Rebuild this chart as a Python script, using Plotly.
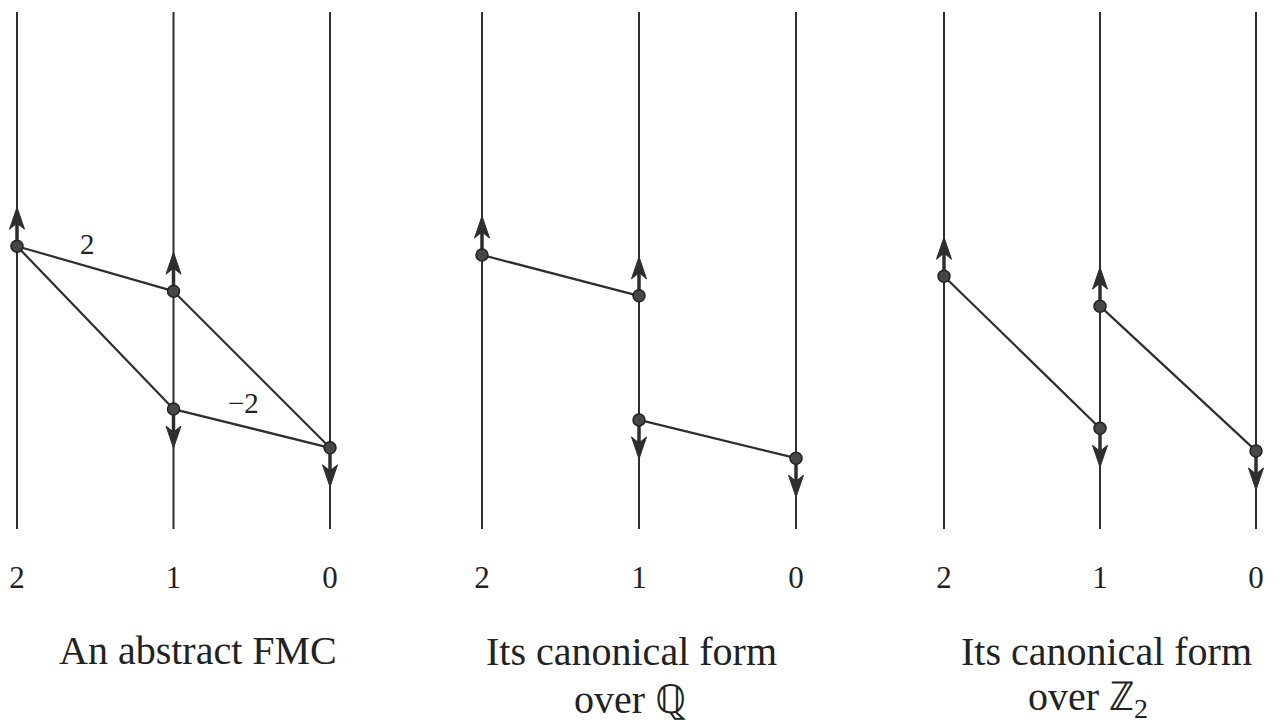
import plotly.graph_objects as go

W, H = 1282, 724

# ---------------- data ----------------
DEGREES = [2, 1, 0]
DEGREE_LABELS = ["2", "1", "0"]
LINE_LEVELS = [0, 10]  # extent of each degree column

# panel 1: an abstract FMC
P1_DEG = [2, 1, 1, 0]
P1_LEVEL = [5.47, 4.60, 2.32, 1.57]
P1_DIR = ["up", "up", "down", "down"]
P1_EDGES = [(0, 1), (0, 2), (1, 3), (2, 3)]
P1_EDGE_LABELS = ["2", "", "", "−2"]
P1_CAPTION = ["An abstract FMC"]

# panel 2: canonical form over Q
P2_DEG = [2, 1, 1, 0]
P2_LEVEL = [5.30, 4.51, 2.11, 1.37]
P2_DIR = ["up", "up", "down", "down"]
P2_EDGES = [(0, 1), (2, 3)]
P2_EDGE_LABELS = ["", ""]
P2_CAPTION = ["Its canonical form", "over ℚ"]

# panel 3: canonical form over Z2
P3_DEG = [2, 1, 1, 0]
P3_LEVEL = [4.89, 4.31, 1.95, 1.51]
P3_DIR = ["up", "up", "down", "down"]
P3_EDGES = [(0, 2), (1, 3)]
P3_EDGE_LABELS = ["", ""]
P3_CAPTION = ["Its canonical form", "over ℤ<sub>2</sub>"]

PANELS = [
    (P1_DEG, P1_LEVEL, P1_DIR, P1_EDGES, P1_EDGE_LABELS, P1_CAPTION),
    (P2_DEG, P2_LEVEL, P2_DIR, P2_EDGES, P2_EDGE_LABELS, P2_CAPTION),
    (P3_DEG, P3_LEVEL, P3_DIR, P3_EDGES, P3_EDGE_LABELS, P3_CAPTION),
]

# ---------------- layout geometry (pixels) ----------------
COL_PX = [(17, 330), (482, 796), (944, 1256)]      # px of degree 2 and degree 0
DOMAIN_PX = [(0, 410), (436, 866), (892, 1282)]
CAPTION_PX = [[(198, 650)], [(631, 651), (630, 699)], [(1106, 651), (1088, 699)]]
PLOT_BOTTOM_PX = 556
LEVEL0_PX, LEVEL10_PX = 529, 12
SY = (LEVEL0_PX - LEVEL10_PX) / 10.0

INK = "#2e2e2e"
FONT = "Liberation Serif, Times New Roman, serif"

ARROW_LEN = 39     # px from point to tip
HEAD_LEN = 22
HEAD_HALF = 7.5
NOTCH = 16

fig = go.Figure()
layout_axes = {}

for k, (deg, lev, dirs, edges, elabels, caption) in enumerate(PANELS):
    xa = "x" if k == 0 else f"x{k+1}"
    axname = "xaxis" if k == 0 else f"xaxis{k+1}"
    p2, p0 = COL_PX[k]
    d0, d1 = DOMAIN_PX[k]
    sx = (p0 - p2) / 2.0
    rng = [2 + (p2 - d0) / sx, 2 - (d1 - p2) / sx]
    layout_axes[axname] = dict(
        domain=[d0 / W, d1 / W], range=rng, anchor="y",
        showgrid=False, zeroline=False, showline=False, ticks="",
        tickmode="array", tickvals=DEGREES, ticktext=DEGREE_LABELS,
        tickfont=dict(family=FONT, size=31, color="#222"),
        fixedrange=True,
    )

    # vertical degree lines
    vx, vy = [], []
    for d in DEGREES:
        vx += [d, d, None]
        vy += [LINE_LEVELS[0], LINE_LEVELS[1], None]
    fig.add_trace(go.Scatter(x=vx, y=vy, xaxis=xa, yaxis="y", mode="lines",
                             line=dict(color=INK, width=2), hoverinfo="skip", showlegend=False))

    # boundary edges
    ex, ey = [], []
    for (a, b) in edges:
        ex += [deg[a], deg[b], None]
        ey += [lev[a], lev[b], None]
    fig.add_trace(go.Scatter(x=ex, y=ey, xaxis=xa, yaxis="y", mode="lines",
                             line=dict(color=INK, width=2.2), hoverinfo="skip", showlegend=False))

    # arrow shafts and heads
    shx, shy, hx, hy = [], [], [], []
    for d, l, dr in zip(deg, lev, dirs):
        s = 1 if dr == "up" else -1
        shx += [d, d, None]
        shy += [l, l + s * (ARROW_LEN - NOTCH + 2) / SY, None]
        tip = l + s * ARROW_LEN / SY
        back = l + s * (ARROW_LEN - HEAD_LEN) / SY
        notch = l + s * (ARROW_LEN - NOTCH) / SY
        hw = HEAD_HALF / sx
        hx += [d, d - hw, d, d + hw, d, None]
        hy += [tip, back, notch, back, tip, None]
    fig.add_trace(go.Scatter(x=shx, y=shy, xaxis=xa, yaxis="y", mode="lines",
                             line=dict(color=INK, width=3.5), hoverinfo="skip", showlegend=False))
    fig.add_trace(go.Scatter(x=hx, y=hy, xaxis=xa, yaxis="y", mode="lines", fill="toself",
                             fillcolor=INK, line=dict(color=INK, width=1),
                             hoverinfo="skip", showlegend=False))

    # generators
    fig.add_trace(go.Scatter(x=deg, y=lev, xaxis=xa, yaxis="y", mode="markers",
                             marker=dict(size=12, color="#474747", line=dict(color="#222", width=1.5)),
                             hoverinfo="skip", showlegend=False))

    # edge labels
    for (a, b), txt in zip(edges, elabels):
        if txt:
            fig.add_annotation(x=(deg[a] + deg[b]) / 2, y=(lev[a] + lev[b]) / 2,
                               xref=xa, yref="y", text=txt, showarrow=False,
                               xshift=-8, yshift=25,
                               font=dict(family=FONT, size=29, color="#222"))

    # captions
    for txt, (cx, cy) in zip(caption, CAPTION_PX[k]):
        fig.add_annotation(x=cx / W, y=1 - cy / H, xref="paper", yref="paper",
                           text=txt, showarrow=False, xanchor="center", yanchor="middle",
                           font=dict(family=FONT, size=40, color="#222"))

fig.update_layout(
    width=W, height=H,
    margin=dict(l=0, r=0, t=0, b=0),
    paper_bgcolor="white", plot_bgcolor="white",
    yaxis=dict(domain=[1 - PLOT_BOTTOM_PX / H, 1],
               range=[-(PLOT_BOTTOM_PX - LEVEL0_PX) / SY, LEVEL0_PX / SY],
               visible=False, fixedrange=True),
    **layout_axes,
)

fig.write_html(
    "out.html",
    config={"staticPlot": True},
    post_script="document.body.style.margin='0';document.body.style.overflow='hidden';",
)
